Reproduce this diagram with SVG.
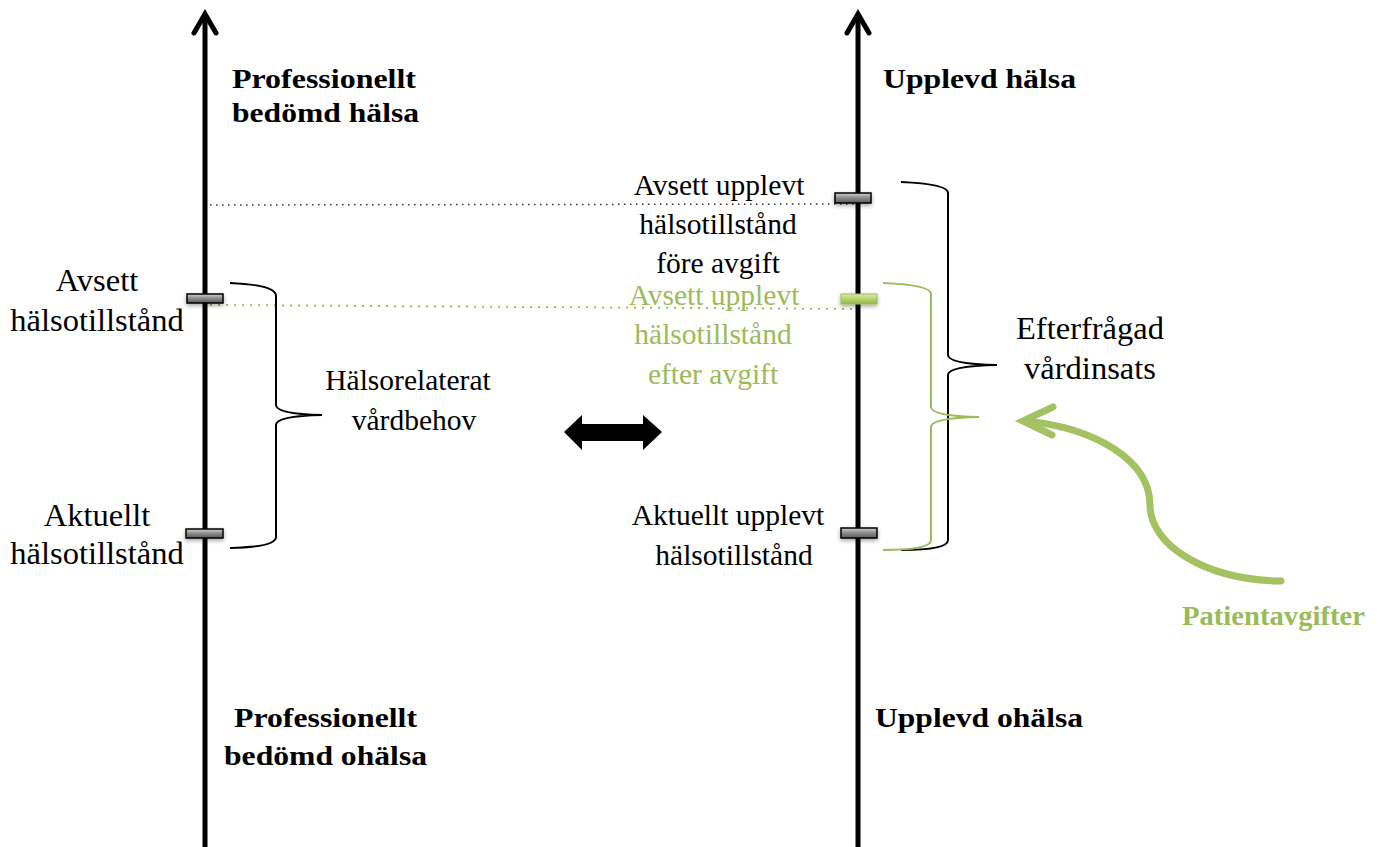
<svg xmlns="http://www.w3.org/2000/svg" width="1383" height="847" viewBox="0 0 1383 847">
<defs>
<linearGradient id="gGray" x1="0" y1="0" x2="0" y2="1">
<stop offset="0" stop-color="#d0d0d0"/><stop offset="0.5" stop-color="#8a8a8a"/><stop offset="1" stop-color="#5a5a5a"/>
</linearGradient>
<linearGradient id="gGreen" x1="0" y1="0" x2="0" y2="1">
<stop offset="0" stop-color="#dcebb0"/><stop offset="0.5" stop-color="#b5d36e"/><stop offset="1" stop-color="#93b64a"/>
</linearGradient>
<filter id="sh" x="-30%" y="-80%" width="160%" height="300%">
<feGaussianBlur in="SourceAlpha" stdDeviation="2"/><feOffset dy="2" result="b"/>
<feComponentTransfer><feFuncA type="linear" slope="0.35"/></feComponentTransfer>
<feMerge><feMergeNode/><feMergeNode in="SourceGraphic"/></feMerge>
</filter>
</defs>
<style>
.axis{stroke:#000;stroke-width:5;fill:none}
.head{stroke:#000;stroke-width:5;fill:none;stroke-linecap:round;stroke-linejoin:miter}
.reg{font-family:"Liberation Serif","Times New Roman",serif;font-size:29.5px;fill:#000;text-anchor:middle}
.big{font-size:32.5px}
.bold{font-family:"Liberation Serif","Times New Roman",serif;font-size:28px;font-weight:bold;fill:#000}
.gtext{fill:#9bbb59}
.brace{fill:none;stroke:#000;stroke-width:2}
.gbrace{fill:none;stroke:#9bbb59;stroke-width:2}
.tick{fill:url(#gGray);stroke:#000;stroke-width:1.5;filter:url(#sh)}
.gtick{fill:url(#gGreen);stroke:#9bbb59;stroke-width:1;filter:url(#sh)}
.dotk{stroke:#333;stroke-width:1.5;stroke-dasharray:1.5 4.5;fill:none}
.dotg{stroke:#9bbb59;stroke-width:2;stroke-dasharray:2 6;fill:none}
</style>
<g id="connectors">
<line class="dotk" x1="210" y1="205" x2="858" y2="204"/>
<line class="dotg" x1="210" y1="305" x2="858" y2="309"/>
<path d="M564,432 L582,415 L582,424 L643,424 L643,415 L662,432 L643,450 L643,441 L582,441 L582,450 Z" fill="#000"/>
<path d="M1281,581 C1205,580 1150,545 1150,505 C1150,460 1095,428 1026,421" fill="none" stroke="#a5c262" stroke-width="7" stroke-linecap="round"/>
<polyline points="1053,407 1023,421 1052,435" fill="none" stroke="#a5c262" stroke-width="7" stroke-linecap="round" stroke-linejoin="miter"/>
</g>
<g id="axis-left">
<line class="axis" x1="205" y1="847" x2="205" y2="17"/>
<polyline class="head" points="194,33 205,14 216,33"/>
</g>
<g id="axis-right">
<line class="axis" x1="858" y1="847" x2="858" y2="17"/>
<polyline class="head" points="847,33 858,14 869,33"/>
</g>
<g id="brace-left">
<path class="brace" d="M230,283 Q276,285 276,296 L276,405 Q276,414 322,415 Q276,416 276,425 L276,537 Q276,547 230,548"/>
</g>
<g id="brace-right-black">
<path class="brace" d="M901,182 Q948,184 948,193 L948,355 Q948,364 997,365 Q948,366 948,375 L948,540 Q948,550 901,550"/>
</g>
<g id="brace-right-green">
<path class="gbrace" d="M883,283 Q931,285 931,294 L931,407 Q931,416 979,417 Q931,418 931,427 L931,540 Q931,550 883,550"/>
</g>
<g id="ticks">
<rect class="tick" x="187" y="294" width="36" height="9"/>
<rect class="tick" x="186" y="529" width="37" height="9"/>
<rect class="tick" x="835" y="193" width="36" height="10"/>
<rect class="gtick" x="841" y="294" width="36" height="10"/>
<rect class="tick" x="841" y="528" width="36" height="10"/>
</g>
<g id="label-prof-health">
<text class="bold" x="232" y="88" textLength="184" lengthAdjust="spacingAndGlyphs">Professionellt</text>
<text class="bold" x="232" y="122" textLength="187" lengthAdjust="spacingAndGlyphs">bedömd hälsa</text>
</g>
<g id="label-upplevd-halsa">
<text class="bold" x="883" y="88" textLength="193" lengthAdjust="spacingAndGlyphs">Upplevd hälsa</text>
</g>
<g id="label-prof-ohalsa">
<text class="bold" x="234" y="727" textLength="183" lengthAdjust="spacingAndGlyphs">Professionellt</text>
<text class="bold" x="224" y="765" textLength="203" lengthAdjust="spacingAndGlyphs">bedömd ohälsa</text>
</g>
<g id="label-upplevd-ohalsa">
<text class="bold" x="875" y="727" textLength="208" lengthAdjust="spacingAndGlyphs">Upplevd ohälsa</text>
</g>
<g id="label-patientavgifter">
<text class="bold gtext" x="1182" y="625" textLength="183" lengthAdjust="spacingAndGlyphs">Patientavgifter</text>
</g>
<g id="label-avsett">
<text class="reg big" x="97" y="291">Avsett</text>
<text class="reg big" x="97" y="331">hälsotillstånd</text>
</g>
<g id="label-aktuellt">
<text class="reg big" x="97" y="526">Aktuellt</text>
<text class="reg big" x="97" y="564">hälsotillstånd</text>
</g>
<g id="label-vardbehov">
<text class="reg" x="408" y="390">Hälsorelaterat</text>
<text class="reg" x="414" y="430">vårdbehov</text>
</g>
<g id="label-avsett-fore">
<text class="reg" x="719" y="195">Avsett upplevt</text>
<text class="reg" x="718" y="234">hälsotillstånd</text>
<text class="reg" x="718" y="273">före avgift</text>
</g>
<g id="label-avsett-efter">
<text class="reg gtext" x="714" y="305">Avsett upplevt</text>
<text class="reg gtext" x="713" y="344">hälsotillstånd</text>
<text class="reg gtext" x="713" y="384">efter avgift</text>
</g>
<g id="label-aktuellt-upplevt">
<text class="reg" x="728" y="525">Aktuellt upplevt</text>
<text class="reg" x="734" y="565">hälsotillstånd</text>
</g>
<g id="label-efterfragad">
<text class="reg big" x="1090" y="339">Efterfrågad</text>
<text class="reg big" x="1090" y="379">vårdinsats</text>
</g>
</svg>
